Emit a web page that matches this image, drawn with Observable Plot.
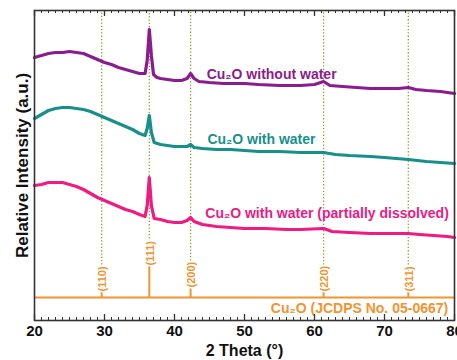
<!DOCTYPE html>
<html>
<head>
<meta charset="utf-8">
<script src="https://cdn.jsdelivr.net/npm/d3@7"></script>
<script src="https://cdn.jsdelivr.net/npm/@observablehq/plot@0.6"></script>
<style>
  html, body { margin: 0; padding: 0; background: #fff; }
  svg { display: block; }
</style>
</head>
<body>
<div id="chart"></div>
<script>
// ---- Data ----
const seriesLabels = ["Cu₂O without water", "Cu₂O with water", "Cu₂O with water (partially dissolved)"];
const seriesColors = ["#8c1c8e", "#17908b", "#ef1a82"];

const thetaWithout = [20,21,22,23,24,25,26,27,28,29,30,31,32,33,34,35,35.8,36.1,36.4,36.7,37,37.5,38,39,40,41,41.8,42.3,42.8,43.5,45,47,50,52,55,58,60,61.3,62.2,64,66,68,70,72,73.4,74.5,76,78,79,80];
const intWithout   = [263,265,267,268,268,269,268,267,264,261,258,256,253,251,249,247,247,260,291,265,246,243,242,241,240,240,242,247,242,239,238,237,237,236,235,235,236,239,235,234,233,232,232,232,233,231,230,229,228,227];

const thetaWith = [20,21,22,23,24,25,26,27,28,29,30,31,32,33,34,35,35.8,36.1,36.4,36.7,37.1,38,40,41.8,42.3,42.8,44,46,48,50,52,55,58,61.3,63,65,68,70,73.4,76,78,80];
const intWith   = [202,206,210,212,213,213,212,211,209,206,203,200,197,194,191,187,185,192,205,188,178,176,174,174,176,173,172,171,171,170,169,169,168,168,166,165,164,163,161,159,158,157];

const thetaDissolved = [20,21,22,23,24,25,26,27,28,29,30,31,32,33,34,35,35.8,36.1,36.4,36.7,37.1,38,39,40,41,41.8,42.3,42.8,44,46,48,50,53,56,58,61.3,62.5,65,68,70,73.4,75,77,79,80];
const intDissolved   = [135,136,138,138,138,136,134,131,127,123,120,117,114,111,109,106,104,115,143,115,102,101,99,98,98,100,103,99,96,94,93,92,92,91,91,92,89,88,87,87,87,86,85,84,83];

// Cu2O reference pattern (JCPDS 05-0667)
const refHkl      = ["(110)", "(111)", "(200)", "(220)", "(311)"];
const refTheta    = [29.6, 36.4, 42.3, 61.3, 73.4];
const refHeight   = [6, 32, 10, 6, 6];
const refBaseline = 23;
const refLabel    = "Cu₂O (JCDPS No. 05-0667)";

const xMajorTicks = [20, 30, 40, 50, 60, 70, 80];
const xMinorTicks = d3.range(20, 81, 1);
const yDomain = [0, 310];

// ---- Build tables ----
const toRows = (xs, ys, s) => xs.map((x, i) => ({theta: x, intensity: ys[i], series: s}));
const curves = [
  toRows(thetaWithout, intWithout, seriesLabels[0]),
  toRows(thetaWith, intWith, seriesLabels[1]),
  toRows(thetaDissolved, intDissolved, seriesLabels[2])
];
const refs = refHkl.map((h, i) => ({hkl: h, theta: refTheta[i], top: refBaseline + refHeight[i]}));

const orange = "#f29430";
const font = "Liberation Sans, Arial, Helvetica, sans-serif";

const marks = [
  // dotted guide lines
  Plot.ruleX(refs, {x: "theta", y1: "top", y2: yDomain[1], stroke: "#9c9830", strokeWidth: 1.3, strokeDasharray: "1.3,2"}),
  // curves
  ...curves.map((rows, i) => Plot.line(rows, {x: "theta", y: "intensity", stroke: seriesColors[i], strokeWidth: 3.2, strokeLinejoin: "round"})),
  // reference sticks
  Plot.ruleY([refBaseline], {stroke: orange, strokeWidth: 2}),
  Plot.ruleX(refs, {x: "theta", y1: refBaseline, y2: "top", stroke: orange, strokeWidth: 2}),
  Plot.text(refs, {x: "theta", y: "top", text: "hkl", rotate: -90, textAnchor: "start", dx: 1, fill: orange, stroke: "white", strokeWidth: 3, fontSize: 11, fontWeight: "bold", fontFamily: font}),
  // series labels
  Plot.text([seriesLabels[0]], {x: 44.6, y: 242, text: d => d, textAnchor: "start", lineAnchor: "bottom", fill: seriesColors[0], fontSize: 14, fontWeight: "bold", fontFamily: font}),
  Plot.text([seriesLabels[1]], {x: 44.7, y: 177, text: d => d, textAnchor: "start", lineAnchor: "bottom", fill: seriesColors[1], fontSize: 14, fontWeight: "bold", fontFamily: font}),
  Plot.text([seriesLabels[2]], {x: 44.4, y: 103, text: d => d, textAnchor: "start", lineAnchor: "bottom", fill: seriesColors[2], fontSize: 14, fontWeight: "bold", fontFamily: font}),
  Plot.text([refLabel], {x: 79.1, y: 8, text: d => d, textAnchor: "end", lineAnchor: "bottom", fill: orange, fontSize: 14, fontWeight: "bold", fontFamily: font}),
  // inward ticks, bottom and top
  Plot.ruleX(xMinorTicks, {x: d => d, y1: yDomain[0], y2: yDomain[0] + 3, stroke: "#333", strokeWidth: 1}),
  Plot.ruleX(xMajorTicks, {x: d => d, y1: yDomain[0], y2: yDomain[0] + 6, stroke: "#333", strokeWidth: 1.3}),
  Plot.ruleX(xMinorTicks, {x: d => d, y1: yDomain[1], y2: yDomain[1] - 3, stroke: "#333", strokeWidth: 1}),
  Plot.ruleX(xMajorTicks, {x: d => d, y1: yDomain[1], y2: yDomain[1] - 6, stroke: "#333", strokeWidth: 1.3}),
  Plot.frame({stroke: "#333", strokeWidth: 1.6}),
  Plot.axisX({ticks: xMajorTicks, tickSize: 0, tickPadding: 5, label: null, fontSize: 15, fontWeight: "bold", fill: "#111"}),
  Plot.axisY({ticks: [], label: null}),
  // axis titles
  Plot.text(["2 Theta (°)"], {frameAnchor: "bottom", textAnchor: "middle", lineAnchor: "bottom", dy: 35, text: d => d, fontSize: 16, fontWeight: "bold", fill: "#111", fontFamily: font}),
  Plot.text(["Relative Intensity (a.u.)"], {frameAnchor: "left", textAnchor: "middle", rotate: -90, dx: -12, text: d => d, fontSize: 17, fontWeight: "bold", fill: "#111", fontFamily: font})
];

const chart = Plot.plot({
  width: 457,
  height: 360,
  marginLeft: 34,
  marginRight: 3,
  marginTop: 10,
  marginBottom: 40,
  style: {fontFamily: font, background: "#fff", overflow: "visible"},
  x: {domain: [20, 80]},
  y: {domain: yDomain},
  marks
});
document.getElementById("chart").appendChild(chart);
</script>
</body>
</html>
